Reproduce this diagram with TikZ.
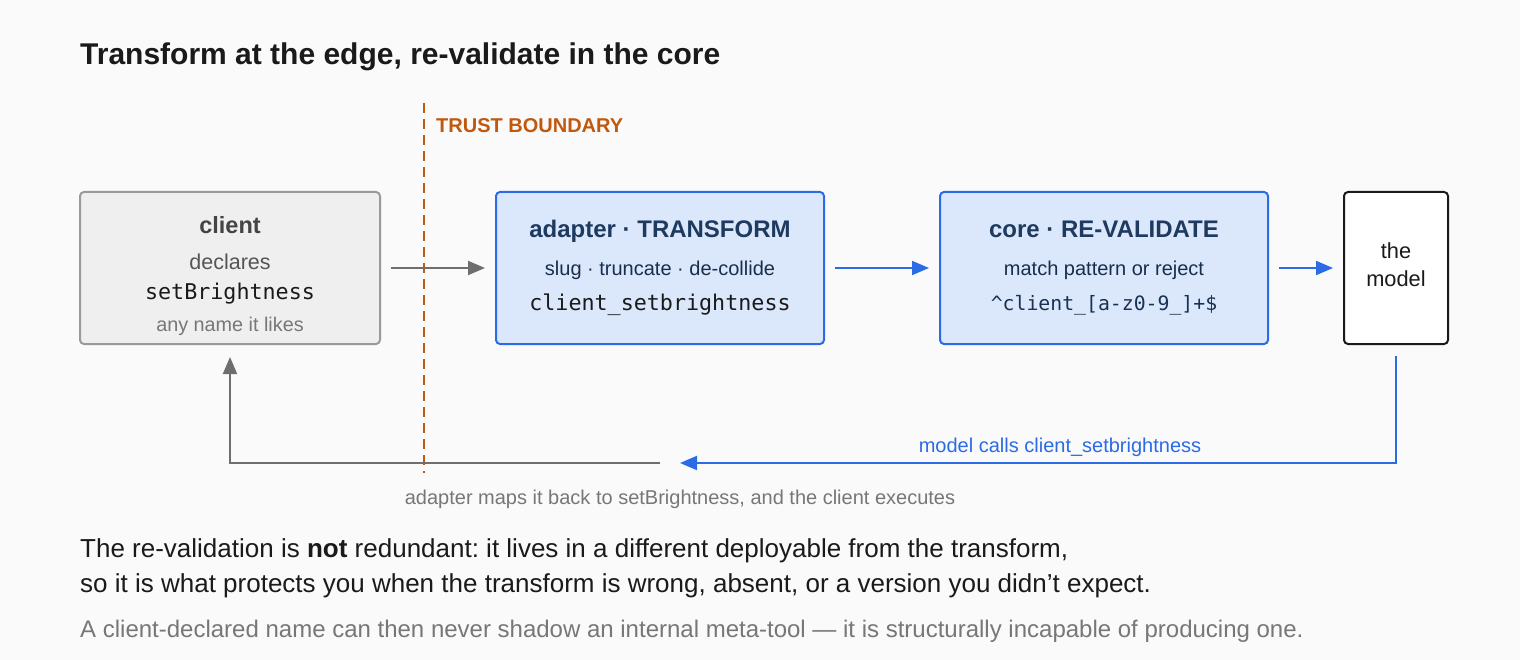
\documentclass[tikz,border=0pt]{standalone}
\usepackage{fontspec}
\setmainfont{Liberation Sans}
\setmonofont{DejaVu Sans Mono}
\usetikzlibrary{arrows.meta}
\definecolor{bg}{HTML}{FAFAFA}
\definecolor{clientfill}{HTML}{EFEFEF}
\definecolor{clientdraw}{HTML}{9A9A9A}
\definecolor{bluefill}{HTML}{DBE8FC}
\definecolor{bluedraw}{HTML}{2C6BE6}
\definecolor{navy}{HTML}{1F3A5F}
\definecolor{trust}{HTML}{C0580F}
\definecolor{arrowgray}{HTML}{6E6E6E}
\definecolor{txtgray}{HTML}{555555}
\definecolor{lightgray}{HTML}{777777}
\definecolor{ink}{HTML}{1A1A1A}
\frenchspacing
\tikzset{
  box/.style={rounded corners=4pt, line width=2pt, minimum height=152pt, inner sep=0pt},
  clientbox/.style={box, fill=clientfill, draw=clientdraw, minimum width=300pt},
  bluebox/.style={box, fill=bluefill, draw=bluedraw, minimum width=328pt},
  modelbox/.style={box, fill=white, draw=ink, minimum width=104pt},
  txt/.style={inner sep=0pt, anchor=base},
  grayarrow/.style={draw=arrowgray, line width=2pt, -{Triangle[length=17pt,width=14pt]}},
  bluearrow/.style={draw=bluedraw, line width=2pt, -{Triangle[length=17pt,width=14pt]}},
}
\begin{document}
\begin{tikzpicture}[x=1pt,y=-1pt]
\useasboundingbox (0,0) rectangle (1520,660);
\fill[bg] (0,0) rectangle (1520,660);

\node[txt, anchor=base west, font=\fontsize{30}{34}\selectfont\bfseries, text=ink] (title) at (80,65) {Transform at the edge, re-validate in the core};

% trust boundary
\coordinate (tbtop) at (424,103);
\coordinate (tbbot) at (424,473);
\draw[trust, line width=2pt, dash pattern=on 10pt off 6pt] (tbtop) -- (tbbot);
\node[txt, anchor=base west, font=\fontsize{20}{24}\selectfont\bfseries, text=trust] (tblabel) at (436,133) {TRUST BOUNDARY};

% boxes
\node[clientbox] (client) at (230,268) {};
\node[bluebox] (adapter) at (660,268) {};
\node[bluebox] (core) at (1104,268) {};
\node[modelbox] (model) at (1396,268) {};

% client texts
\node[txt, font=\fontsize{23.5}{26}\selectfont\bfseries, text=txtgray!80!black] (c1) at (230,234) {client};
\node[txt, font=\fontsize{21.5}{24}\selectfont, text=txtgray] (c2) at (230,270) {declares};
\node[txt, font=\fontsize{21.7}{24}\ttfamily, text=ink] (c3) at (230,299) {setBrightness};
\node[txt, font=\fontsize{19.8}{22}\selectfont, text=lightgray] (c4) at (230,331) {any name it likes};

% adapter texts
\node[txt, font=\fontsize{24}{28}\selectfont\bfseries, text=navy] (a1) at (660,238) {adapter · TRANSFORM};
\node[txt, font=\fontsize{20}{22}\selectfont, text=navy!80!black] (a2) at (660,276) {slug · truncate · de-collide};
\node[txt, font=\fontsize{21.7}{24}\ttfamily, text=ink] (a3) at (660,310) {client\_setbrightness};

% core texts
\node[txt, font=\fontsize{24}{28}\selectfont\bfseries, text=navy] (k1) at (1104,238) {core · RE-VALIDATE};
\node[txt, font=\fontsize{20}{22}\selectfont, text=navy!80!black] (k2) at (1104,276) {match pattern or reject};
\node[txt, font=\fontsize{19.8}{22}\ttfamily, text=navy!85!black] (k3) at (1104,310) {\textasciicircum client\_[a-z0-9\_]+\$};

% model texts
\node[txt, font=\fontsize{21.8}{24}\selectfont, text=ink] (m1) at (1396,259) {the};
\node[txt, font=\fontsize{21.8}{24}\selectfont, text=ink] (m2) at (1396,287) {model};

% forward arrows
\draw[grayarrow] ([xshift=10pt]client.east) -- ([xshift=-10pt]adapter.west);
\draw[bluearrow] ([xshift=10pt]adapter.east) -- ([xshift=-10pt]core.west);
\draw[bluearrow] ([xshift=10pt]core.east) -- ([xshift=-10pt]model.west);

% return path
\coordinate (bluestart) at (1396,356);
\coordinate (blueend) at (680,463);
\coordinate (graystart) at (660,463);
\coordinate (grayend) at (230,357);
\draw[bluearrow] (bluestart) |- (blueend);
\draw[grayarrow] (graystart) -| (grayend);
\node[txt, font=\fontsize{20}{22}\selectfont, text=bluedraw] (retlabel) at (1060,452) {model calls client\_setbrightness};
\node[txt, font=\fontsize{20}{22}\selectfont, text=lightgray] (backlabel) at (680,504) {adapter maps it back to setBrightness, and the client executes};

% bottom notes
\node[txt, anchor=base west, font=\fontsize{26}{30}\selectfont, text=ink] (n1) at (80,557) {The re-validation is \textbf{not} redundant: it lives in a different deployable from the transform,};
\node[txt, anchor=base west, font=\fontsize{26}{30}\selectfont, text=ink] (n2) at (80,592) {so it is what protects you when the transform is wrong, absent, or a version you didn’t expect.};
\node[txt, anchor=base west, font=\fontsize{24}{28}\selectfont, text=lightgray] (n3) at (80,637) {A client-declared name can then never shadow an internal meta-tool — it is structurally incapable of producing one.};
\end{tikzpicture}
\end{document}
